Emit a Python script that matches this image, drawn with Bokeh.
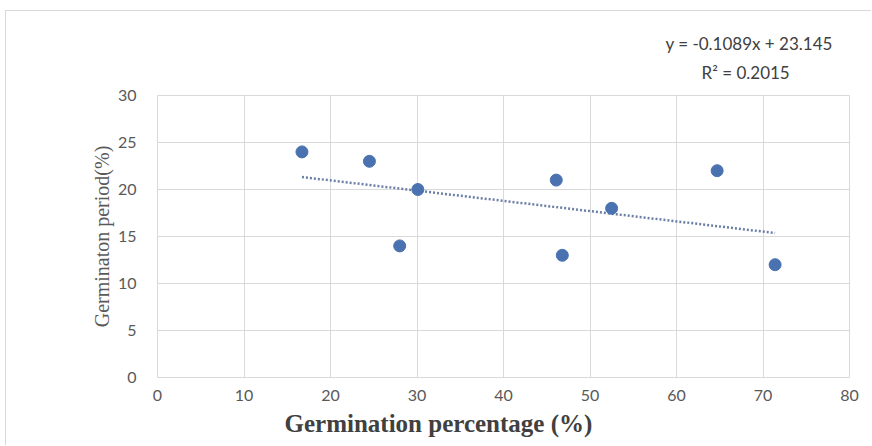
from bokeh.plotting import figure
from bokeh.models import Title, FixedTicker, ColumnDataSource
from bokeh.embed import file_html
from bokeh.resources import INLINE

# Data
germ_pct = [16.7, 24.5, 28.0, 30.1, 46.1, 46.8, 52.5, 64.7, 71.4]
germ_period = [24, 23, 14, 20, 21, 13, 18, 22, 12]
x_ticks = [0, 10, 20, 30, 40, 50, 60, 70, 80]
y_ticks = [0, 5, 10, 15, 20, 25, 30]
slope = -0.1089
intercept = 23.145
r2 = 0.2015

p = figure(width=866, height=435, x_range=(0, 80), y_range=(0, 30),
           output_backend="svg", toolbar_location=None,
           min_border_left=151, min_border_right=23,
           min_border_top=84, min_border_bottom=69)
p.styles = {"margin-top": "10px", "margin-left": "5px",
            "border-top": "1px solid #d9d9d9", "border-left": "1px solid #d9d9d9"}
p.background_fill_color = "white"
p.border_fill_color = "white"
p.outline_line_color = "#d9d9d9"
p.outline_line_width = 1

for ax in (p.xaxis[0], p.yaxis[0]):
    ax.axis_line_color = None
    ax.major_tick_line_color = None
    ax.minor_tick_line_color = None
    ax.major_label_text_font = "Lato"
    ax.major_label_text_font_size = "16px"
    ax.major_label_text_color = "#595959"
p.xaxis[0].ticker = FixedTicker(ticks=x_ticks)
p.yaxis[0].ticker = FixedTicker(ticks=y_ticks)
p.xaxis[0].major_label_standoff = 6
p.yaxis[0].major_label_standoff = 15

p.xgrid.ticker = FixedTicker(ticks=x_ticks)
p.ygrid.ticker = FixedTicker(ticks=y_ticks)
p.grid.grid_line_color = "#d9d9d9"
p.grid.grid_line_width = 1

# Trend line
xs = [min(germ_pct), max(germ_pct)]
ys = [slope * v + intercept for v in xs]
p.line(xs, ys, line_color="#6b7fa6", line_width=2.5, line_dash="2 2")

src = ColumnDataSource(dict(x=germ_pct, y=germ_period))
p.scatter("x", "y", source=src, size=12, fill_color="#4a72b0", line_color="#4a72b0")

eq_r2 = Title(text=f"R² = {r2}", align="left", offset=544, standoff=25,
              text_font="Lato", text_font_size="17px", text_font_style="normal",
              text_color="#404040")
eq_line = Title(text=f"y = {slope}x + {intercept}", align="left", offset=508, standoff=-13,
                text_font="Lato", text_font_size="17px", text_font_style="normal",
                text_color="#404040")
p.add_layout(eq_r2, "above")
p.add_layout(eq_line, "above")

xl = Title(text="Germination  percentage (%)", align="left", offset=127, standoff=8,
           text_font="Liberation Serif", text_font_size="25px", text_font_style="bold",
           text_color="#404040")
p.add_layout(xl, "below")

yl = Title(text="Germinaton period(%)", align="center", offset=6, standoff=4,
           text_font="Liberation Serif", text_font_size="20px", text_font_style="normal",
           text_color="#595959")
p.add_layout(yl, "left")

open("out.html", "w").write(file_html(p, INLINE))
